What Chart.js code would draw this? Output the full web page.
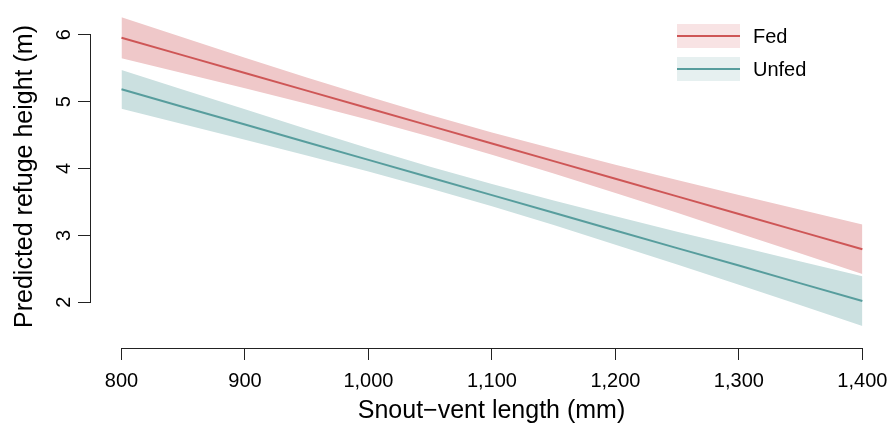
<!DOCTYPE html>
<html>
<head>
<meta charset="utf-8">
<script src="https://cdn.jsdelivr.net/npm/chart.js@4.4.1/dist/chart.umd.min.js"></script>
<style>
  html, body { margin: 0; padding: 0; background: #ffffff; }
  #wrap { width: 894px; height: 427px; position: relative; }
</style>
</head>
<body>
<div id="wrap"><canvas id="c" width="894" height="427"></canvas></div>
<script>
// ---- data ----
const snoutVentLength = [800, 850, 900, 950, 1000, 1050, 1100, 1150, 1200, 1250, 1300, 1350, 1400];
const fedFit    = [5.955, 5.691, 5.428, 5.164, 4.901, 4.637, 4.373, 4.110, 3.846, 3.583, 3.319, 3.056, 2.792];
const fedUpper  = [6.261, 5.957, 5.657, 5.361, 5.075, 4.800, 4.540, 4.294, 4.058, 3.829, 3.604, 3.383, 3.162];
const fedLower  = [5.649, 5.425, 5.199, 4.967, 4.727, 4.474, 4.206, 3.926, 3.634, 3.337, 3.034, 2.729, 2.422];
const unfedFit   = [5.184, 4.920, 4.657, 4.393, 4.129, 3.865, 3.602, 3.338, 3.074, 2.810, 2.549, 2.283, 2.019];
const unfedUpper = [5.474, 5.178, 4.886, 4.590, 4.303, 4.028, 3.769, 3.522, 3.286, 3.056, 2.834, 2.610, 2.389];
const unfedLower = [4.894, 4.662, 4.428, 4.196, 3.955, 3.702, 3.435, 3.154, 2.862, 2.564, 2.264, 1.956, 1.646];
const seriesNames = ['Fed', 'Unfed'];
const xTicks = [800, 900, 1000, 1100, 1200, 1300, 1400];
const yTicks = [2, 3, 4, 5, 6];
const xTitle = 'Snout\u2212vent length (mm)';
const yTitle = 'Predicted refuge height (m)';

// ---- styles ----
const FONT = '"Liberation Sans", Arial, Helvetica, sans-serif';
const fedLineColor = '#CE5656';
const fedBandColor = '#EFC8C9';
const fedLegendFill = '#F8E3E4';
const unfedLineColor = '#579D9D';
const unfedBandColor = '#CBE0E0';
const unfedLegendFill = '#E6F0F0';
const axisColor = '#222222';

const pts = (ys) => snoutVentLength.map((x, i) => ({ x: x, y: ys[i] }));
const lineDs = (label, ys, color) => ({
  label, data: pts(ys), borderColor: color, borderWidth: 2, pointRadius: 0,
  fill: false, tension: 0
});
const bandDs = (label, ys, fillTarget, color) => ({
  label, data: pts(ys), borderWidth: 0, borderColor: 'rgba(0,0,0,0)', pointRadius: 0,
  backgroundColor: color, fill: fillTarget, tension: 0
});

const axisLinesPlugin = {
  id: 'rAxes',
  afterDraw(chart) {
    const ctx = chart.ctx, xs = chart.scales.x, ys = chart.scales.y, ca = chart.chartArea;
    ctx.save();
    ctx.strokeStyle = axisColor; ctx.lineWidth = 1;
    const yb = Math.round(ca.bottom) + 0.5;
    ctx.beginPath();
    ctx.moveTo(xs.getPixelForValue(xTicks[0]), yb);
    ctx.lineTo(xs.getPixelForValue(xTicks[xTicks.length - 1]), yb);
    ctx.stroke();
    const xl = Math.round(ca.left) - 0.5;
    ctx.beginPath();
    ctx.moveTo(xl, ys.getPixelForValue(yTicks[0]));
    ctx.lineTo(xl, ys.getPixelForValue(yTicks[yTicks.length - 1]));
    ctx.stroke();

    // rotated y tick labels (R style, las = 0)
    ctx.fillStyle = '#000000';
    ctx.font = '20px ' + FONT;
    ctx.textAlign = 'center';
    ctx.textBaseline = 'middle';
    yTicks.forEach(v => {
      ctx.save();
      ctx.translate(ca.left - 28, ys.getPixelForValue(v));
      ctx.rotate(-Math.PI / 2);
      ctx.fillText(String(v), 0, 1);
      ctx.restore();
    });

    // legend
    const bx = 677, bw = 63, bh = 24, tx = 753;
    const rows = [
      { name: seriesNames[0], fill: fedLegendFill, line: fedLineColor, y: 24 },
      { name: seriesNames[1], fill: unfedLegendFill, line: unfedLineColor, y: 57 }
    ];
    ctx.font = '20px ' + FONT;
    ctx.textBaseline = 'middle';
    ctx.textAlign = 'left';
    rows.forEach(r => {
      ctx.fillStyle = r.fill;
      ctx.fillRect(bx, r.y, bw, bh);
      ctx.strokeStyle = r.line; ctx.lineWidth = 2;
      ctx.beginPath();
      ctx.moveTo(bx, r.y + bh / 2); ctx.lineTo(bx + bw, r.y + bh / 2);
      ctx.stroke();
      ctx.fillStyle = '#000000';
      ctx.fillText(r.name, tx, r.y + bh / 2 + 1);
    });
    ctx.restore();
  }
};

new Chart(document.getElementById('c'), {
  type: 'line',
  data: {
    datasets: [
      lineDs(seriesNames[0], fedFit, fedLineColor),
      lineDs(seriesNames[1], unfedFit, unfedLineColor),
      bandDs('Fed lower', fedLower, false, fedBandColor),
      bandDs('Fed upper', fedUpper, 2, fedBandColor),
      bandDs('Unfed lower', unfedLower, false, unfedBandColor),
      bandDs('Unfed upper', unfedUpper, 4, unfedBandColor)
    ]
  },
  options: {
    responsive: false,
    animation: false,
    devicePixelRatio: 1,
    layout: { padding: { top: 5, right: 2, left: 0, bottom: 0 } },
    plugins: { legend: { display: false }, tooltip: { enabled: false } },
    scales: {
      x: {
        type: 'linear', min: 775.3, max: 1424,
        afterBuildTicks: (s) => { s.ticks = xTicks.map(v => ({ value: v })); },
        afterFit: (s) => { s.height = 79; s.paddingLeft = 0; s.paddingRight = 0; },
        grid: { display: true, drawOnChartArea: false, drawTicks: true, tickLength: 12, color: axisColor, lineWidth: 1 },
        border: { display: false },
        ticks: {
          autoSkip: false, maxRotation: 0, minRotation: 0, padding: 9, color: '#000',
          font: { family: FONT, size: 20 },
          callback: (v) => Number(v).toLocaleString('en-US')
        },
        title: { display: true, text: xTitle, color: '#000', font: { family: FONT, size: 25 }, padding: { top: 0, bottom: 1 } }
      },
      y: {
        type: 'linear', min: 1.317, max: 6.444,
        afterBuildTicks: (s) => { s.ticks = yTicks.map(v => ({ value: v })); },
        afterFit: (s) => { s.width = 91; s.paddingTop = 0; s.paddingBottom = 0; },
        grid: { display: true, drawOnChartArea: false, drawTicks: true, tickLength: 13, color: axisColor, lineWidth: 1 },
        border: { display: false },
        ticks: { display: false },
        title: { display: true, text: yTitle, color: '#000', font: { family: FONT, size: 25 }, padding: { top: 10, bottom: 0 } }
      }
    }
  },
  plugins: [axisLinesPlugin]
});
</script>
</body>
</html>
